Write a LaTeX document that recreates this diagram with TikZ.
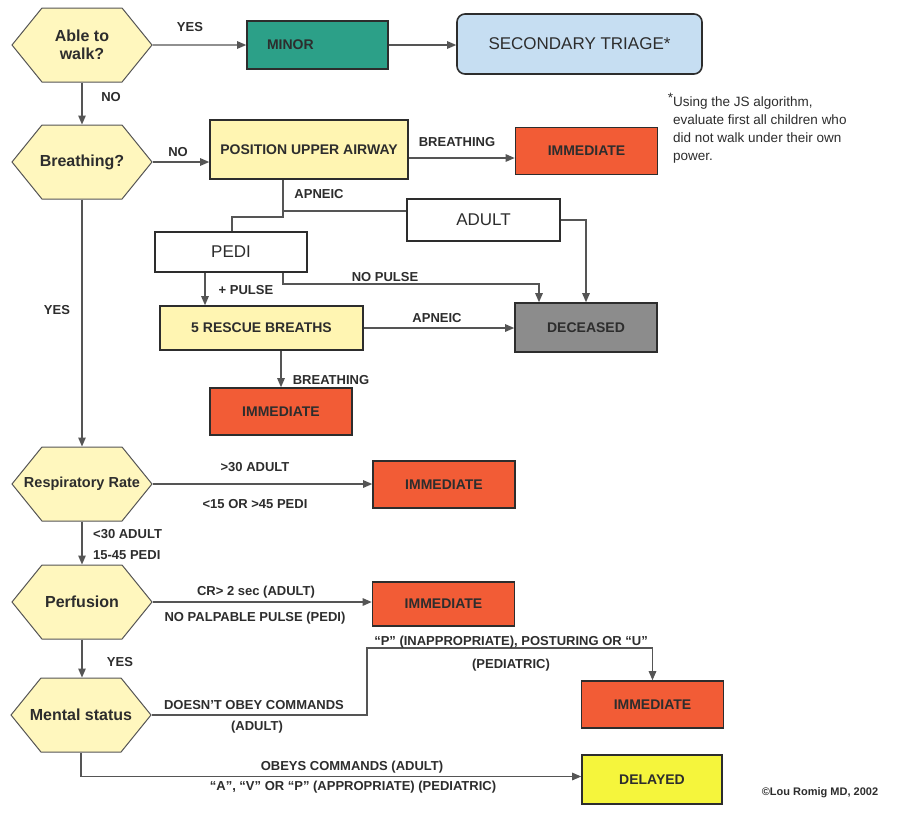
\documentclass[tikz,border=0pt]{standalone}
\usepackage{fontspec}
\setmainfont{Liberation Sans}
\usetikzlibrary{positioning, calc, shapes.symbols, arrows.meta}

\definecolor{hexfill}{RGB}{255,247,190}
\definecolor{boxyel}{RGB}{255,245,178}
\definecolor{minorgreen}{RGB}{44,160,136}
\definecolor{immred}{RGB}{242,92,54}
\definecolor{deadgray}{RGB}{140,140,140}
\definecolor{delyel}{RGB}{245,245,60}
\definecolor{secblue}{RGB}{198,222,242}
\definecolor{inkgray}{RGB}{45,45,45}
\definecolor{linegray}{RGB}{85,85,85}

\tikzset{
  hexq/.style={shape=signal, signal to=east and west, signal pointer angle=102,
    draw=linegray, line width=1pt, fill=hexfill, minimum width=140pt,
    minimum height=74pt, inner xsep=-30pt, inner ysep=0pt, text=inkgray,
    align=center, font=\fontsize{16}{18}\selectfont\bfseries},
  tbox/.style 2 args={draw=inkgray, line width=1.6pt, minimum width=#1,
    minimum height=#2, inner sep=0pt, text=inkgray,
    font=\fontsize{14}{16}\selectfont\bfseries},
  redbox/.style={tbox={142pt}{47pt}, fill=immred},
  plainbox/.style 2 args={tbox={#1}{#2}, fill=white,
    font=\fontsize{17}{19}\selectfont},
  lbl/.style={text=inkgray, inner sep=0pt,
    font=\fontsize{13}{14}\selectfont\bfseries},
  wire/.style={draw=linegray, line width=1.2pt},
  arr/.style={wire, -{Triangle[length=9pt,width=7.5pt]}},
}

\begin{document}
\begin{tikzpicture}[x=1pt, y=-1pt]
\fill[white] (0,0) rectangle (902,812);
\useasboundingbox (0,0) rectangle (902,812);

% decision hexagons
\node[hexq] (walk) at (82,45) {Able to\\walk?};
\node[hexq] (breath) at (82,162) {Breathing?};
\node[hexq, font=\fontsize{14.5}{16}\selectfont\bfseries] (resp) at (82,484) {Respiratory Rate};
\node[hexq] (perf) at (82,602) {Perfusion};
\node[hexq] (mental) at (81,715) {Mental status};

% outcome boxes
\node[tbox={141pt}{48pt}, fill=minorgreen, text width=101pt, inner xsep=20pt, align=left] (minor) at (317.5,45) {MINOR};
\node[plainbox={245pt}{60pt}, fill=secblue, rounded corners=8pt] (sec) at (579.5,44) {SECONDARY TRIAGE*};
\node[tbox={198pt}{59pt}, fill=boxyel] (pos) at (309,149.5) {POSITION UPPER AIRWAY};
\node[redbox] (imm1) at (586.5,151) {IMMEDIATE};
\node[plainbox={153pt}{42pt}] (adult) at (483.5,220) {ADULT};
\node[plainbox={152pt}{40pt}] (pedi) at (231,252) {PEDI};
\node[tbox={203pt}{44pt}, fill=boxyel] (rescue) at (261.5,328) {5 RESCUE BREATHS};
\node[tbox={142pt}{49pt}, fill=deadgray] (dead) at (586,327.5) {DECEASED};
\node[redbox] (imm2) at (281,411.5) {IMMEDIATE};
\node[redbox] (imm3) at (444,484.5) {IMMEDIATE};
\node[redbox, minimum height=44pt] (imm4) at (443.5,604) {IMMEDIATE};
\node[redbox] (imm5) at (652.5,704.5) {IMMEDIATE};
\node[tbox={140pt}{49pt}, fill=delyel] (delayed) at (652,779.5) {DELAYED};

% junctions
\coordinate (apJ) at (283,217);
\coordinate (apR) at (283,211);
\coordinate (apL) at (232,217);
\coordinate (npJ) at (283,284);
\coordinate (npK) at (539,284);
\coordinate (plX) at (205,0);
\coordinate (msJ) at (367,648);

% connectors
\draw[arr] (walk) -- (minor);
\draw[arr] (minor.east) -- (minor.east -| sec.west);
\draw[arr] (walk.south) -- (breath.north);
\draw[arr] (breath.east) -- (breath.east -| pos.west);
\draw[arr] ([yshift=-7pt]pos.east |- imm1.west) -- ([yshift=-7pt]imm1.west);
\draw[wire] (pos.south -| apJ) -- (apJ) -- (apL) -- (apL |- pedi.north);
\draw[wire] (apR) -- (apR -| adult.west);
\draw[arr] (adult.east) -| (dead.north);
\draw[arr] (pedi.south -| npJ) -- (npJ) -- (npK) -- (npK |- dead.north);
\draw[arr] (pedi.south -| plX) -- (rescue.north -| plX);
\draw[arr] (rescue.east) -- (rescue.east -| dead.west);
\draw[arr] (rescue.south -| imm2) -- (imm2.north);
\draw[arr] (breath.south) -- (resp.north);
\draw[arr] (resp.east) -- (resp.east -| imm3.west);
\draw[arr] (resp.south) -- (perf.north);
\draw[arr] (perf.east) -- (perf.east -| imm4.west);
\draw[arr] (perf.south) -- (perf.south |- mental.north);
\draw[arr] (mental.east) -| (msJ) -| (imm5.north);
\draw[arr] (mental.south) |- ([yshift=3pt]delayed.west);

% connector labels
\node[lbl] (yesWalk) at (190,27) {YES};
\node[lbl] (noWalk) at (111,97) {NO};
\node[lbl] (noBreath) at (178,152) {NO};
\node[lbl] (brPos) at (457,142) {BREATHING};
\node[lbl] (apPos) at (319,194) {APNEIC};
\node[lbl] (noPulse) at (385,277) {NO PULSE};
\node[lbl] (plusPulse) at (246,290) {+ PULSE};
\node[lbl] (apRescue) at (437,318) {APNEIC};
\node[lbl] (brRescue) at (331,380) {BREATHING};
\node[lbl] (yesBreath) at (57,310) {YES};
\node[lbl] (respHi) at (255,467) {>30 ADULT};
\node[lbl] (respLo) at (255,504) {<15 OR >45 PEDI};
\node[lbl, anchor=west, align=left, font=\fontsize{13}{21}\selectfont\bfseries] (respOk) at (93,545) {<30 ADULT\\15-45 PEDI};
\node[lbl] (perfA) at (256,592) {CR> 2 sec (ADULT)};
\node[lbl] (perfP) at (255,618) {NO PALPABLE PULSE (PEDI)};
\node[lbl] (yesPerf) at (120,662) {YES};
\node[lbl] (noObey) at (254,705) {DOESN'T OBEY COMMANDS};
\node[lbl] (noObeyA) at (257,727) {(ADULT)};
\node[lbl] (inapp) at (511,642) {“P” (INAPPROPRIATE), POSTURING OR “U”};
\node[lbl] (inappP) at (511,665) {(PEDIATRIC)};
\node[lbl] (obey) at (352,767) {OBEYS COMMANDS (ADULT)};
\node[lbl] (obeyP) at (353,787) {“A”, “V” OR “P” (APPROPRIATE) (PEDIATRIC)};

% notes
\node[text=inkgray, inner sep=0pt, anchor=north west, align=left,
  font=\fontsize{13.5}{18}\selectfont] (fn) at (673,93)
  {\llap{\raisebox{4pt}{*}}Using the JS algorithm,\\evaluate first all children who\\did not walk under their own\\power.};
\node[lbl, font=\fontsize{11}{13}\selectfont\bfseries] (copy) at (820,793) {©Lou Romig MD, 2002};
\end{tikzpicture}
\end{document}
